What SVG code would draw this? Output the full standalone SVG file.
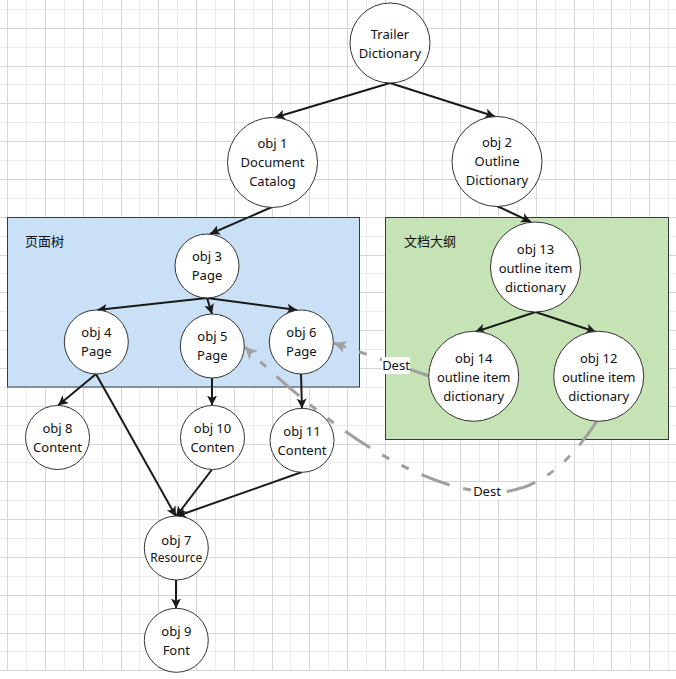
<svg xmlns="http://www.w3.org/2000/svg" width="676" height="679" viewBox="0 0 676 679">
<style>
.t{font-family:"Noto Sans","Open Sans","Noto Sans CJK SC",sans-serif;font-size:13px;fill:#111;text-anchor:middle}
.s{font-size:12px}
.cn{font-family:"Noto Sans CJK SC","Noto Sans",sans-serif;font-size:13px;fill:#111}
.n{fill:#fff;stroke:#333;stroke-width:1}
.e{fill:none;stroke:#1a1a1a;stroke-width:2;marker-end:url(#ah)}
.d{fill:none;stroke:#a0a0a0;stroke-width:3;stroke-dasharray:30 14 8 14 8 14;marker-end:url(#gh)}
</style>
<defs>
<marker id="ah" markerUnits="userSpaceOnUse" markerWidth="12" markerHeight="10" refX="10" refY="5" orient="auto">
<path d="M0,0 L10,5 L0,10 L2.5,5 z" fill="#1a1a1a"/>
</marker>
<marker id="gh" markerUnits="userSpaceOnUse" markerWidth="14" markerHeight="12" refX="12" refY="6" orient="auto">
<path d="M0,0 L12,6 L0,12 L3,6 z" fill="#a0a0a0"/>
</marker>
</defs>
<rect width="676" height="679" fill="#fff"/>
<g id="grid">
<path stroke="#ebebeb" stroke-width="1" fill="none" d="M26.5 0V671M64.5 0V671M102.5 0V671M139.5 0V671M177.5 0V671M215.5 0V671M253.5 0V671M290.5 0V671M328.5 0V671M366.5 0V671M404.5 0V671M442.5 0V671M479.5 0V671M517.5 0V671M555.5 0V671M593.5 0V671M630.5 0V671M668.5 0V671M0 9.5H676M0 47.5H676M0 84.5H676M0 122.5H676M0 160.5H676M0 198.5H676M0 236.5H676M0 273.5H676M0 311.5H676M0 349.5H676M0 387.5H676M0 425.5H676M0 462.5H676M0 500.5H676M0 538.5H676M0 576.5H676M0 614.5H676M0 651.5H676"/>
<path stroke="#d6d6d6" stroke-width="1" fill="none" d="M7.5 0V671M45.5 0V671M83.5 0V671M121.5 0V671M158.5 0V671M196.5 0V671M234.5 0V671M272.5 0V671M309.5 0V671M347.5 0V671M385.5 0V671M423.5 0V671M460.5 0V671M498.5 0V671M536.5 0V671M574.5 0V671M611.5 0V671M649.5 0V671M0 28.5H676M0 66.5H676M0 103.5H676M0 141.5H676M0 179.5H676M0 217.5H676M0 255.5H676M0 292.5H676M0 330.5H676M0 368.5H676M0 406.5H676M0 444.5H676M0 481.5H676M0 519.5H676M0 557.5H676M0 595.5H676M0 633.5H676M0 670.5H676"/>
</g>
<g id="page-tree">
<rect x="7.5" y="217.5" width="352" height="169.5" fill="#c9e0f7" stroke="#36393d" stroke-width="1"/>
<text class="cn" x="25" y="246">页面树</text>
</g>
<g id="outline">
<rect x="385.5" y="217.5" width="283" height="222" fill="#c6e3b5" stroke="#36393d" stroke-width="1"/>
<text class="cn" x="404" y="246">文档大纲</text>
</g>
<g id="connectors">
<path class="e" d="M390 83 L275 117.5"/>
<path class="e" d="M390 83 L495 116.5"/>
<path class="e" d="M272 207 L210 234"/>
<path class="e" d="M497 206 L531 222"/>
<path class="e" d="M207 298 L97 310"/>
<path class="e" d="M207 298 L212 314"/>
<path class="e" d="M207 298 L297 310"/>
<path class="e" d="M535.5 312 L475 332"/>
<path class="e" d="M535.5 312 L596 332"/>
<path class="e" d="M96 374 L58 405.5"/>
<path class="e" d="M96 374 L176 516.5"/>
<path class="e" d="M212 378 L212 405.5"/>
<path class="e" d="M301 374 L302 408.5"/>
<path class="e" d="M212 469.5 L176 516.5"/>
<path class="e" d="M302 472 L176 516.5"/>
<path class="e" d="M176 580 L176 608.5"/>
<path class="d" d="M429 376 L334 343"/>
<path class="d" d="M597 421 C565 470 530 495 488 492 C450 490 370 468 245 347"/>
<rect x="382" y="357" width="28" height="17" fill="#fff"/>
<text class="t" x="396" y="369.5">Dest</text>
<rect x="472" y="483" width="30" height="16" fill="#fff"/>
<text class="t" x="487" y="495.5">Dest</text>
</g>
<g id="trailer"><circle class="n" cx="390" cy="43" r="40"/><text class="t" x="390" y="38.5">Trailer</text><text class="t" x="390" y="57.5">Dictionary</text></g>
<g id="obj1"><circle class="n" cx="272.5" cy="162.5" r="45"/><text class="t" x="272.5" y="148">obj 1</text><text class="t" x="272.5" y="167">Document</text><text class="t" x="272.5" y="186">Catalog</text></g>
<g id="obj2"><circle class="n" cx="497" cy="161.5" r="45"/><text class="t" x="497" y="147">obj 2</text><text class="t" x="497" y="166">Outline</text><text class="t" x="497" y="185">Dictionary</text></g>
<g id="obj3"><circle class="n" cx="207" cy="266" r="32"/><text class="t" x="207" y="261">obj 3</text><text class="t" x="207" y="280">Page</text></g>
<g id="obj4"><circle class="n" cx="96.3" cy="342" r="32"/><text class="t" x="96.3" y="337">obj 4</text><text class="t" x="96.3" y="356">Page</text></g>
<g id="obj5"><circle class="n" cx="212.3" cy="346" r="32"/><text class="t" x="212.3" y="341">obj 5</text><text class="t" x="212.3" y="360">Page</text></g>
<g id="obj6"><circle class="n" cx="301.3" cy="342" r="32"/><text class="t" x="301.3" y="337">obj 6</text><text class="t" x="301.3" y="356">Page</text></g>
<g id="obj13"><circle class="n" cx="535.5" cy="267" r="45"/><text class="t" x="535.5" y="253.5">obj 13</text><text class="t" x="535.5" y="272.5">outline item</text><text class="t" x="535.5" y="291.5">dictionary</text></g>
<g id="obj14"><circle class="n" cx="473.7" cy="376.3" r="45"/><text class="t" x="473.7" y="362.5">obj 14</text><text class="t" x="473.7" y="381.5">outline item</text><text class="t" x="473.7" y="400.5">dictionary</text></g>
<g id="obj12"><circle class="n" cx="598.7" cy="376.3" r="45"/><text class="t" x="598.7" y="362.5">obj 12</text><text class="t" x="598.7" y="381.5">outline item</text><text class="t" x="598.7" y="400.5">dictionary</text></g>
<g id="obj8"><circle class="n" cx="57.5" cy="437.5" r="32"/><text class="t" x="57.5" y="432.5">obj 8</text><text class="t" x="57.5" y="451.5">Content</text></g>
<g id="obj10"><circle class="n" cx="212.5" cy="437.5" r="32"/><text class="t" x="212.5" y="432.5">obj 10</text><text class="t" x="212.5" y="451.5">Conten</text></g>
<g id="obj11"><circle class="n" cx="302" cy="440.3" r="32"/><text class="t" x="302" y="435.5">obj 11</text><text class="t" x="302" y="454.5">Content</text></g>
<g id="obj7"><circle class="n" cx="176.3" cy="548" r="32"/><text class="t" x="176.3" y="544.5">obj 7</text><text class="t s" x="176.3" y="562">Resource</text></g>
<g id="obj9"><circle class="n" cx="176.3" cy="640.3" r="32"/><text class="t" x="176.3" y="636">obj 9</text><text class="t" x="176.3" y="655">Font</text></g>
</svg>
